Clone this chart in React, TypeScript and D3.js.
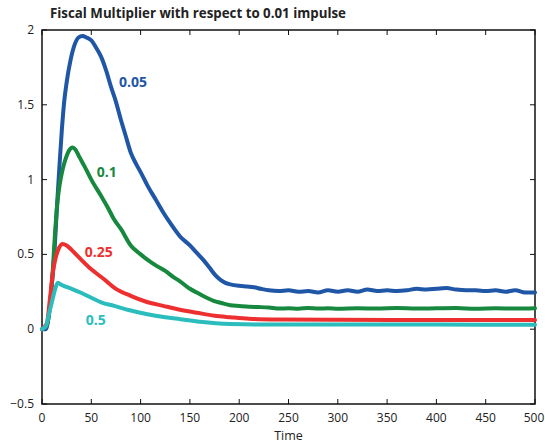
import * as d3 from 'd3'

// [time, value] pairs
const blue: [number, number][] = [
  [0, 0], [4, 0], [7, 0.1], [10, 0.3], [12.5, 0.5], [15, 0.8], [17.5, 1.07], [20, 1.32], [22.5, 1.52],
  [25, 1.65], [29, 1.8], [33, 1.9], [37, 1.95], [41, 1.96], [45, 1.95], [50, 1.93], [55, 1.88],
  [60, 1.82], [65, 1.73], [70, 1.62], [75, 1.52], [80, 1.4], [85, 1.29], [90, 1.18], [95, 1.11],
  [100, 1.05], [107, 0.96], [115, 0.87], [123, 0.78], [130, 0.71], [140, 0.62], [150, 0.56],
  [157, 0.51], [164, 0.46], [170, 0.41], [176, 0.36], [181, 0.33], [186, 0.31], [191, 0.3],
  [200, 0.29], [208, 0.285], [215, 0.28], [222, 0.27], [230, 0.26], [240, 0.255], [250, 0.26],
  [260, 0.25], [270, 0.255], [280, 0.245], [290, 0.26], [300, 0.25], [310, 0.26], [320, 0.25],
  [330, 0.265], [340, 0.255], [350, 0.26], [360, 0.255], [370, 0.26], [380, 0.27], [390, 0.265],
  [400, 0.27], [410, 0.275], [420, 0.265], [430, 0.26], [440, 0.26], [450, 0.255], [460, 0.26],
  [470, 0.25], [480, 0.26], [490, 0.245], [500, 0.245],
]
const green: [number, number][] = [
  [0, 0], [5, 0.03], [8, 0.15], [11, 0.4], [13, 0.62], [16, 0.87], [18, 0.97], [21, 1.07],
  [24, 1.14], [27, 1.19], [31, 1.215], [34, 1.2], [38, 1.15], [43, 1.09], [50, 1.0], [60, 0.89],
  [67, 0.81], [73, 0.735], [80, 0.67], [90, 0.56], [100, 0.5], [110, 0.45], [117, 0.42],
  [125, 0.39], [133, 0.35], [140, 0.32], [150, 0.27], [157, 0.245], [164, 0.22], [174, 0.19],
  [182, 0.175], [191, 0.16], [200, 0.155], [210, 0.15], [220, 0.148], [230, 0.145], [241, 0.138],
  [250, 0.14], [260, 0.137], [270, 0.142], [280, 0.138], [290, 0.14], [300, 0.137], [320, 0.14],
  [340, 0.138], [360, 0.142], [380, 0.138], [400, 0.14], [420, 0.141], [440, 0.136], [460, 0.14],
  [480, 0.138], [500, 0.14],
]
const red: [number, number][] = [
  [0, 0], [5, 0.04], [8, 0.2], [11, 0.38], [14, 0.48], [17, 0.54], [21, 0.57], [25, 0.56],
  [30, 0.53], [39, 0.47], [50, 0.4], [63, 0.334], [75, 0.27], [90, 0.223], [105, 0.185],
  [123, 0.156], [140, 0.13], [157, 0.11], [175, 0.09], [191, 0.08], [210, 0.07], [240, 0.065],
  [300, 0.063], [400, 0.062], [500, 0.062],
]
const cyan: [number, number][] = [
  [0, 0], [4, 0.02], [7, 0.1], [10, 0.18], [13, 0.26], [16, 0.31], [20, 0.295], [30, 0.27],
  [39, 0.245], [50, 0.21], [60, 0.18], [73, 0.156], [90, 0.125], [107, 0.1], [125, 0.08],
  [140, 0.067], [160, 0.05], [191, 0.035], [220, 0.032], [300, 0.032], [400, 0.031], [500, 0.03],
]

const seriesNames = ['0.05', '0.1', '0.25', '0.5']
const seriesData = [blue, green, red, cyan]
const seriesColors = ['#1f56a6', '#17893f', '#ee2f2f', '#2bbdbd']
// label anchor (left baseline) in data coordinates
const labelPos: [number, number][] = [[78, 1.62], [55.5, 1.02], [43.4, 0.48], [44.4, 0.03]]

const xTicks = [0, 50, 100, 150, 200, 250, 300, 350, 400, 450, 500]
const yTicks = [-0.5, 0, 0.5, 1, 1.5, 2]

const W = 545
const H = 447
const margin = { left: 42, right: 10, top: 30, bottom: 43 }
const font = '"Open Sans", sans-serif'

export default function App() {
  const x = d3.scaleLinear().domain([0, 500]).range([margin.left, W - margin.right])
  const y = d3.scaleLinear().domain([-0.5, 2]).range([H - margin.bottom, margin.top])
  const line = d3.line<[number, number]>().x(d => x(d[0])).y(d => y(d[1])).curve(d3.curveMonotoneX)
  const [x0, x1] = x.range()
  const [yb, yt] = y.range()

  return (
    <svg width={W} height={H} style={{ position: 'absolute', left: 0, top: 0, background: '#fff' }}>
      <text x={50} y={18} fontFamily={font} fontWeight="bold" fontSize={13.3} fill="#222">
        Fiscal Multiplier with respect to 0.01 impulse
      </text>
      <rect x={x0} y={yt} width={x1 - x0} height={yb - yt} fill="none" stroke="#111" strokeWidth={1.5} />
      {xTicks.map(t => (
        <g key={'x' + t}>
          <line x1={x(t)} x2={x(t)} y1={yb} y2={yb - 5} stroke="#111" />
          <line x1={x(t)} x2={x(t)} y1={yt} y2={yt + 5} stroke="#111" />
          <text x={x(t) - (t === 500 ? 1 : 0)} y={yb + 18} textAnchor="middle" fontFamily={font} fontSize={12}
            fill="#222">{t}</text>
        </g>
      ))}
      {yTicks.map(t => (
        <g key={'y' + t}>
          <line x1={x0} x2={x0 + 5} y1={y(t)} y2={y(t)} stroke="#111" />
          <line x1={x1} x2={x1 - 5} y1={y(t)} y2={y(t)} stroke="#111" />
          <text x={x0 - 8} y={y(t) + 4} textAnchor="end" fontFamily={font} fontSize={12} fill="#222">
            {t < 0 ? '\u2212' + Math.abs(t) : t}
          </text>
        </g>
      ))}
      <text x={(x0 + x1) / 2} y={H - 7} textAnchor="middle" fontFamily={font} fontSize={12.5} fill="#222">Time</text>
      {seriesData.map((d, i) => (
        <path key={seriesNames[i]} d={line(d) ?? ''} fill="none" stroke={seriesColors[i]} strokeWidth={4}
          strokeLinejoin="round" strokeLinecap="round" />
      ))}
      {seriesNames.map((n, i) => (
        <text key={'l' + n} x={x(labelPos[i][0])} y={y(labelPos[i][1])} fontFamily={font} fontWeight="bold"
          fontSize={14} fill={seriesColors[i]}>{n}</text>
      ))}
    </svg>
  )
}
